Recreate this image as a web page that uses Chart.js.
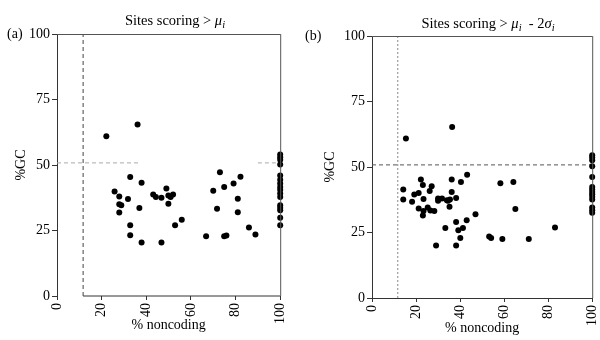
<!DOCTYPE html>
<html><head><meta charset="utf-8">
<script src="https://cdn.jsdelivr.net/npm/chart.js@4.4.1/dist/chart.umd.min.js"></script>
<style>
html,body{margin:0;padding:0;background:#fff;overflow:hidden;width:600px;height:340px}
.panel{position:absolute;top:0;height:340px}
#pa{left:0;width:300px}
#pb{left:300px;width:312px}
</style></head><body>
<div class="panel" id="pa"><canvas id="chartA" width="300" height="340"></canvas></div>
<div class="panel" id="pb"><canvas id="chartB" width="312" height="340"></canvas></div>
<script>
// tick labels
const xTicks = [0, 20, 40, 60, 80, 100];
const yTicks = [0, 25, 50, 75, 100];

// cutoff lines (% noncoding, %GC)
const cutNoncoding = 11.7;
const cutGC = 50.8;

// panel (a): sites scoring > mu_i
const aNoncoding = [22.1, 36.1, 32.8, 37.9, 25.8, 27.9, 31.8, 27.9, 28.8, 36.9, 27.9, 32.8, 32.8, 37.9, 46.8,
  43.1, 44.3, 46.8, 49.0, 49.9, 50.9, 52.0, 49.9, 55.9, 52.9, 73.0, 82.2, 79.1, 74.9, 70.0, 81.0, 71.7, 81.0,
  86.0, 88.9, 66.8, 74.9, 75.9,
  100, 100, 100, 100, 100, 100, 100, 100, 100, 100, 100, 100, 100, 100, 100, 100];
const aGC = [61.0, 65.5, 45.4, 43.2, 39.9, 38.0, 37.0, 35.0, 34.6, 33.6, 31.9, 27.0, 23.2, 20.4, 20.4,
  38.7, 37.8, 37.5, 41.0, 38.4, 37.8, 38.7, 35.2, 29.1, 27.0, 47.2, 45.5, 42.9, 41.6, 40.2, 37.1, 33.3, 32.0,
  26.1, 23.5, 22.8, 22.8, 23.1,
  54.0, 53.0, 52.0, 50.2, 46.0, 44.4, 42.9, 41.6, 40.6, 39.1, 37.8, 34.6, 33.7, 32.7, 29.9, 27.0];
const aGCLineSegs = [[0, 37], [90, 100]];

// panel (b): sites scoring > mu_i - 2 sigma_i
const bNoncoding = [15.4, 36.4, 14.2, 14.2, 22.2, 23.1, 19.2, 21.2, 18.2, 23.4, 27.1, 26.2, 21.2, 23.4, 23.1,
  25.3, 26.5, 28.3, 30.0, 30.0, 31.8, 34.0, 34.5, 35.4, 35.2, 36.2, 36.2, 38.2, 40.4, 43.2, 47.0, 38.2, 43.0,
  33.3, 39.2, 41.3, 40.1, 29.1, 38.2, 58.3, 64.2, 65.1, 53.2, 54.1, 59.2, 71.2, 83.1,
  100, 100, 100, 100, 100, 100, 100, 100, 100, 100, 100, 100, 100, 100];
const bGC = [60.9, 65.3, 41.4, 37.6, 45.2, 43.1, 39.5, 40.1, 36.7, 37.8, 42.7, 40.8, 34.2, 33.2, 31.5,
  34.5, 33.4, 33.2, 38.0, 37.1, 38.0, 37.3, 37.1, 37.6, 34.8, 45.2, 40.5, 38.2, 44.3, 47.0, 32.0, 29.0, 29.7,
  26.7, 25.9, 26.7, 22.9, 20.0, 20.0, 43.8, 44.3, 34.0, 23.5, 22.9, 22.5, 22.5, 26.9,
  54.5, 53.6, 52.6, 50.3, 46.2, 42.4, 41.4, 40.5, 39.6, 38.6, 37.6, 34.5, 33.5, 32.5];
const bGCLineSegs = [[0, 100]];

const serif = '"Liberation Serif", "DejaVu Serif", serif';
const tickFont = { family: serif, size: 14 };

function drawTitle(ctx, parts, cx, y) {
  const fontOf = p => (p.it ? 'italic ' : '') + (p.sub ? 10.5 : 14.5) + 'px ' + serif;
  let w = 0;
  parts.forEach(p => { ctx.font = fontOf(p); w += ctx.measureText(p.t).width; });
  let x = cx - w / 2;
  ctx.textAlign = 'left';
  ctx.textBaseline = 'alphabetic';
  parts.forEach(p => {
    ctx.font = fontOf(p);
    ctx.fillText(p.t, x, y + (p.sub ? 3 : 0));
    x += ctx.measureText(p.t).width;
  });
}

function makePanel(id, p) {
  const lineDs = (pts, color, dash) => ({
    type: 'line', data: pts, borderColor: color, borderWidth: 1, borderDash: dash,
    pointRadius: 0, fill: false, clip: false, order: 2
  });
  const datasets = [{
    type: 'scatter', data: p.xs.map((x, i) => ({ x, y: p.ys[i] })),
    pointRadius: 3, pointHoverRadius: 3, backgroundColor: '#000', borderWidth: 0, clip: false, order: 0
  }];
  datasets.push(lineDs([{ x: cutNoncoding, y: 0 }, { x: cutNoncoding, y: 100 }], p.vColor, p.vDash));
  p.hSegs.forEach(s => datasets.push(lineDs([{ x: s[0], y: cutGC }, { x: s[1], y: cutGC }], p.hColor, [4, 3])));
  if (p.partialBase) datasets.push(lineDs([{ x: cutNoncoding, y: 0 }, { x: 100, y: 0 }], '#333', []));

  const panelPlugin = {
    id: 'panel',
    afterDraw(chart) {
      const { ctx, chartArea: a } = chart;
      ctx.save();
      ctx.strokeStyle = '#555';
      ctx.lineWidth = 1;
      ctx.beginPath();
      ctx.moveTo(a.left, a.top + 0.5); ctx.lineTo(a.right, a.top + 0.5);
      ctx.moveTo(a.right + 0.5, a.top); ctx.lineTo(a.right + 0.5, a.bottom);
      ctx.stroke();
      ctx.fillStyle = '#000';
      drawTitle(ctx, p.title, p.titleX, p.titleY);
      ctx.font = '14px ' + serif;
      ctx.textAlign = 'left';
      ctx.textBaseline = 'middle';
      ctx.fillText(p.label, p.labelX, a.top);
      ctx.restore();
    }
  };

  return new Chart(document.getElementById(id), {
    data: { datasets },
    options: {
      responsive: false, animation: false, devicePixelRatio: 1,
      layout: { padding: { left: 0, top: p.top, right: p.right, bottom: 0 } },
      plugins: { legend: { display: false }, tooltip: { enabled: false } },
      scales: {
        x: {
          type: 'linear', min: 0, max: 100,
          afterBuildTicks: s => { s.ticks = xTicks.map(v => ({ value: v })); },
          afterFit: s => { s.height = p.xAxisH; },
          ticks: { font: tickFont, color: '#000', minRotation: 90, maxRotation: 90, padding: 3, autoSkip: false },
          grid: { drawOnChartArea: false, tickLength: 4, color: '#333' },
          border: { display: !p.partialBase, color: '#333' },
          title: { display: true, text: '% noncoding', font: tickFont, color: '#000', padding: { top: 0, bottom: p.xTitlePad } }
        },
        y: {
          type: 'linear', min: 0, max: 100,
          afterBuildTicks: s => { s.ticks = yTicks.map(v => ({ value: v })); },
          afterFit: s => { s.width = p.yAxisW; },
          ticks: { font: tickFont, color: '#000', padding: 2 },
          grid: { drawOnChartArea: false, tickLength: 5, color: '#333' },
          border: { color: '#333' },
          title: { display: true, text: '%GC', font: tickFont, color: '#000', padding: { top: p.yTitlePad, bottom: 0 } }
        }
      }
    },
    plugins: [panelPlugin]
  });
}

makePanel('chartA', {
  xs: aNoncoding, ys: aGC, hSegs: aGCLineSegs, partialBase: true,
  vColor: '#444', vDash: [4, 3], hColor: '#aaa',
  top: 34, right: 18, xAxisH: 44, yAxisW: 57, xTitlePad: 6, yTitlePad: 13,
  label: '(a)', labelX: 7, titleX: 175, titleY: 25,
  title: [{ t: 'Sites scoring > ' }, { t: 'μ', it: true }, { t: 'i', it: true, sub: true }]
});

makePanel('chartB', {
  xs: bNoncoding, ys: bGC, hSegs: bGCLineSegs, partialBase: false,
  vColor: '#888', vDash: [2, 2], hColor: '#555',
  top: 36, right: 14, xAxisH: 42, yAxisW: 72, xTitlePad: 3, yTitlePad: 22,
  label: '(b)', labelX: 5, titleX: 188, titleY: 27.5,
  title: [{ t: 'Sites scoring > ' }, { t: 'μ', it: true }, { t: 'i', it: true, sub: true },
    { t: '  - 2' }, { t: 'σ', it: true }, { t: 'i', it: true, sub: true }]
});
</script>
</body></html>
